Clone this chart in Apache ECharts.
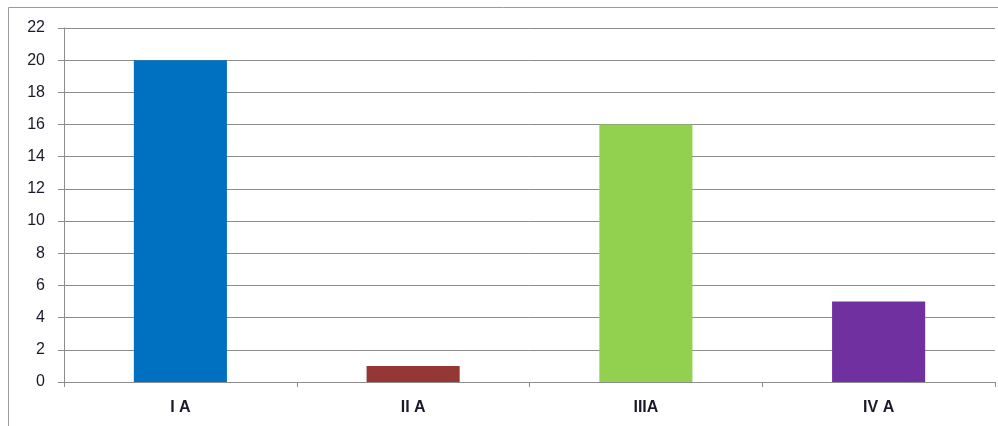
<!DOCTYPE html>
<html>
<head>
<meta charset="utf-8">
<script src="https://cdn.jsdelivr.net/npm/echarts@6/dist/echarts.min.js"></script>
<style>
html,body{margin:0;padding:0;background:#fff;}
#chart{width:998px;height:426px;}
</style>
</head>
<body>
<div id="chart"></div>
<script>
var categories = ['I A', 'II A', 'IIIA', 'IV A'];
var values = [20, 1, 16, 5];
var barColors = ['#0070C0', '#953735', '#92D050', '#7030A0'];
var yTicks = { min: 0, max: 22, interval: 2 };

var chart = echarts.init(document.getElementById('chart'), null, { renderer: 'canvas' });
chart.setOption({
  animation: false,
  graphic: [{
    type: 'rect',
    shape: { x: 8.5, y: 7.5, width: 1000, height: 430 },
    style: { fill: 'none', stroke: '#9a9a9a', lineWidth: 1 },
    silent: true
  }],
  grid: { left: 64, right: 3, top: 28, bottom: 44, containLabel: false },
  xAxis: {
    type: 'category',
    data: categories,
    axisLine: { show: true, lineStyle: { color: '#8c8c8c', width: 1 } },
    axisTick: { show: true, length: 5, lineStyle: { color: '#8c8c8c' } },
    axisLabel: { margin: 18, color: '#1a1a2a', fontFamily: 'Liberation Sans', fontSize: 16, fontWeight: 'bold' },
    splitLine: { show: false }
  },
  yAxis: {
    type: 'value',
    min: yTicks.min,
    max: yTicks.max,
    interval: yTicks.interval,
    axisLine: { show: true, lineStyle: { color: '#8c8c8c', width: 1 } },
    axisTick: { show: true, length: 6, lineStyle: { color: '#8c8c8c' } },
    axisLabel: { margin: 19, color: '#1a1a2a', fontFamily: 'Liberation Sans', fontSize: 16 },
    splitLine: { show: true, lineStyle: { color: '#8c8c8c', width: 1 } }
  },
  series: [{
    type: 'bar',
    barWidth: '40%',
    data: values.map(function (v, i) {
      return { value: v, itemStyle: { color: barColors[i] } };
    })
  }]
});
</script>
</body>
</html>
